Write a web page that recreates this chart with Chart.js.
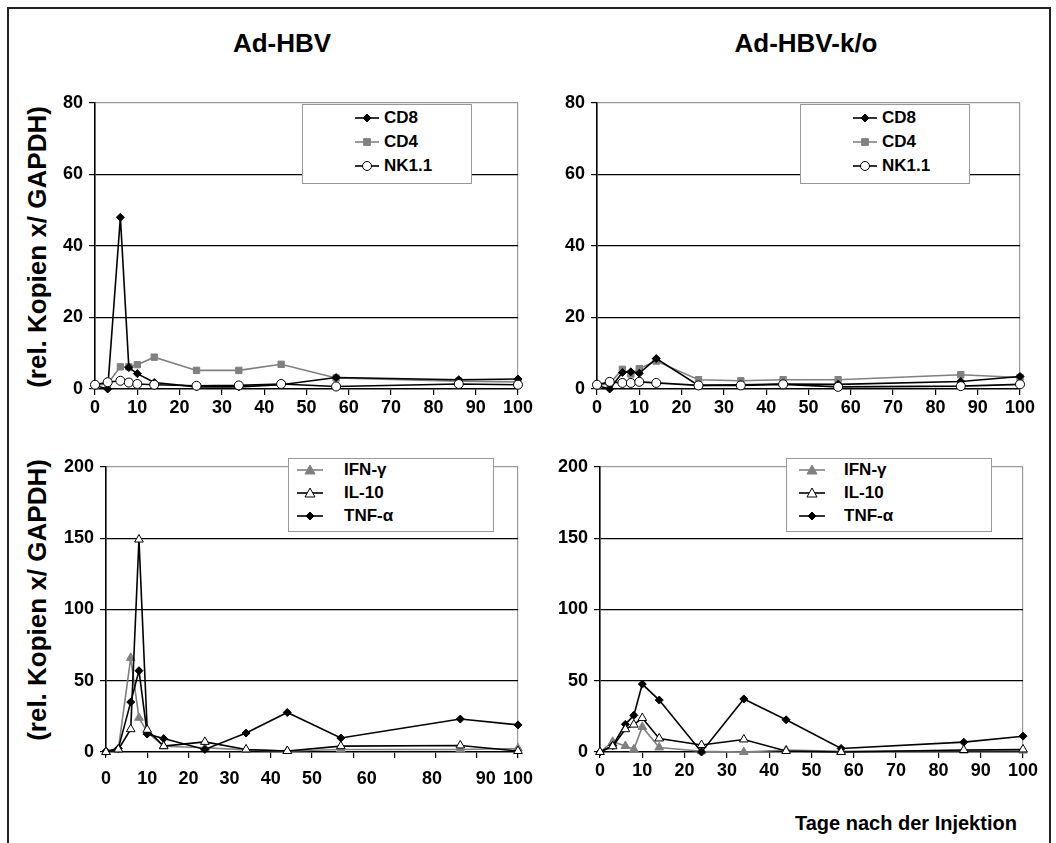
<!DOCTYPE html>
<html>
<head>
<meta charset="utf-8">
<script src="https://cdn.jsdelivr.net/npm/chart.js@4.4.0/dist/chart.umd.min.js"></script>
<style>
  body { margin: 0; background: #fff; width: 1056px; height: 843px; overflow: hidden; position: relative;
         font-family: "Liberation Sans", Arial, sans-serif; }
  .frame { position: absolute; left: 7px; top: 7px; width: 1040px; height: 860px; border: 2px solid #222; border-bottom: none; }
  .panel { position: absolute; }
  .title { position: absolute; font-weight: bold; font-size: 26px; transform: translateX(-50%); white-space: nowrap; }
  .ytitle { position: absolute; font-weight: bold; font-size: 26px; white-space: nowrap;
            transform: translate(-50%, -50%) rotate(-90deg); }
  .xtitle { position: absolute; font-weight: bold; font-size: 20px; white-space: nowrap; }
  .legend { position: absolute; border: 1px solid #999; background: #fff; }
  .legend .row { position: absolute; left: 0; height: 20px; font-weight: bold; font-size: 17px; line-height: 20px; white-space: nowrap; }
  .legend canvas { position: absolute; top: 4px; }
  .legend span { position: absolute; top: 0; }
</style>
</head>
<body>
<div class="frame"></div>
<div class="title" style="left:282px; top:28px;">Ad-HBV</div>
<div class="title" style="left:806px; top:28px;">Ad-HBV-k/o</div>
<div class="ytitle" style="left:37px; top:247px;">(rel. Kopien x/ GAPDH)</div>
<div class="ytitle" style="left:37px; top:600px;">(rel. Kopien x/ GAPDH)</div>
<div class="xtitle" style="left:795px; top:812px;">Tage nach der Injektion</div>

<canvas id="c1" class="panel" style="left:50px; top:86px;" width="488" height="335"></canvas>
<canvas id="c2" class="panel" style="left:552px; top:86px;" width="488" height="335"></canvas>
<canvas id="c3" class="panel" style="left:61px; top:450px;" width="477" height="334"></canvas>
<canvas id="c4" class="panel" style="left:555px; top:450px;" width="488" height="334"></canvas>

<script>
// days after injection
const days = [0, 3, 6, 8, 10, 14, 24, 34, 44, 57, 86, 100];

// Ad-HBV, cell markers
const hbvCD8 = [1, 0, 48, 6, 4.3, 1.8, 0.6, 0.6, 1.2, 3.2, 2.6, 2.8];
const hbvCD4 = [1, 1.5, 6.2, 6.2, 6.8, 8.9, 5.2, 5.2, 6.9, 3.1, 2.2, 2.0];
const hbvNK = [1.2, 1.9, 2.3, 1.8, 1.4, 1.2, 0.9, 1.0, 1.4, 0.7, 1.4, 1.2];

// Ad-HBV-k/o, cell markers
const koCD8 = [1, 0, 4.6, 4.8, 4.4, 8.5, 1.0, 1.2, 1.4, 1.3, 2.1, 3.5];
const koCD4 = [1, 1.5, 5.5, 4.2, 5.7, 7.8, 2.6, 2.3, 2.6, 2.6, 4.0, 3.2];
const koNK = [1.2, 2.0, 1.7, 1.7, 2.0, 1.7, 1.0, 1.0, 1.3, 0.6, 0.8, 1.3];

// Ad-HBV, cytokines
const hbvIFN = [0, 2, 66, 24, 14, 4, 3, 1.5, 0.7, 1.8, 1.8, 2.5];
const hbvIL10 = [0, 1.8, 16, 149, 15.6, 4.1, 7.1, 1.8, 0.7, 4.1, 4.6, 0.7];
const hbvTNF = [0.5, 2.5, 35, 57, 12.6, 9.4, 1.8, 13.3, 27.7, 9.8, 23.1, 19];

// Ad-HBV-k/o, cytokines
const koIFN = [0, 7.2, 4.2, 1.9, 17.6, 3.2, 0.5, 0, 1.4, 0.5, 1, 1];
const koIL10 = [0, 4, 16, 19.2, 23.8, 9.5, 4.9, 8.8, 0.7, 0, 1.4, 1.8];
const koTNF = [0, 4.4, 19.4, 25.7, 47.6, 36.4, 0, 37.2, 22.6, 2.5, 6.9, 11.1];

// x tick labels; the Ad-HBV cytokine panel has its labels placed off the tick marks
const xTickText = ['0', '10', '20', '30', '40', '50', '60', '70', '80', '90', '100'];
const hbvCytoTickText = ['0', '10', '20', '30', '40', '50', '60', '80', '90', '100'];
const hbvCytoTickPos = [0, 10, 20, 30, 40, 50, 63.3, 79.1, 92.2, 100];

const cellLabels = ['CD8', 'CD4', 'NK1.1'];
const cytoLabels = ['IFN-γ', 'IL-10', 'TNF-α'];

const GRAY = '#808080';
const styles = {
  'CD8':   { color: '#000', fill: '#000', point: 'rectRot', r: 4 },
  'CD4':   { color: GRAY, fill: GRAY, point: 'rect', r: 4.5 },
  'NK1.1': { color: '#000', fill: '#fff', point: 'circle', r: 4.5 },
  'IFN-γ': { color: GRAY, fill: GRAY, point: 'triangle', r: 5 },
  'IL-10': { color: '#000', fill: '#fff', point: 'triangle', r: 5 },
  'TNF-α': { color: '#000', fill: '#000', point: 'rectRot', r: 4 }
};

const tickFont = { family: 'Liberation Sans', weight: 'bold', size: 18 };

function dataset(label, values, order) {
  const s = styles[label];
  return {
    label,
    data: days.map((d, i) => ({ x: d, y: values[i] })),
    borderColor: s.color,
    backgroundColor: s.fill,
    pointBackgroundColor: s.fill,
    pointBorderColor: s.color,
    pointStyle: s.point,
    pointRadius: s.r,
    pointBorderWidth: 1,
    borderWidth: 1.6,
    tension: 0,
    clip: false,
    order
  };
}

function makeChart(id, datasets, yMax, yStep, labelPos, labelText) {
  const ctx = document.getElementById(id).getContext('2d');
  const offTick = !!labelPos;
  const scales = {
    x: {
      type: 'linear',
      min: 0, max: 100,
      afterFit: (s) => { s.height = offTick ? 8 : 32; },
      ticks: {
        display: !offTick,
        stepSize: 10,
        color: '#000',
        padding: 2,
        maxRotation: 0,
        font: tickFont,
        callback: (v) => xTickText[Math.round(v / 10)]
      },
      grid: {
        drawOnChartArea: true,
        color: (c) => c.tick && c.tick.value === 100 ? '#999' : 'rgba(0,0,0,0)',
        tickColor: '#000',
        tickLength: 6,
        lineWidth: 1.2
      },
      border: { color: '#000', width: 1.6 }
    },
    y: {
      min: 0, max: yMax,
      afterFit: (s) => { s.width = 45; },
      ticks: { stepSize: yStep, color: '#000', padding: 6, font: tickFont },
      grid: {
        color: (c) => {
          const v = c.tick ? c.tick.value : 0;
          if (v === 0) return 'rgba(0,0,0,0)';
          if (v === yMax) return '#999';
          return '#000';
        },
        tickColor: '#000',
        tickLength: 6,
        lineWidth: 1.2
      },
      border: { color: '#000', width: 1.6 }
    }
  };
  if (offTick) {
    scales.x2 = {
      type: 'linear',
      position: 'bottom',
      min: 0, max: 100,
      afterFit: (s) => { s.height = 24; },
      afterBuildTicks: (s) => { s.ticks = labelPos.map(v => ({ value: v })); },
      ticks: {
        color: '#000',
        padding: 0,
        maxRotation: 0,
        autoSkip: false,
        font: tickFont,
        callback: (v, i) => labelText[i]
      },
      grid: { display: false },
      border: { display: false }
    };
  }
  return new Chart(ctx, {
    type: 'line',
    data: { datasets },
    options: {
      responsive: false,
      animation: false,
      events: [],
      layout: { padding: { top: 10, right: 20, left: 0, bottom: 0 } },
      plugins: { legend: { display: false }, tooltip: { enabled: false } },
      scales
    }
  });
}

makeChart('c1', [
  dataset('CD8', hbvCD8, 2),
  dataset('CD4', hbvCD4, 3),
  dataset('NK1.1', hbvNK, 1)
], 80, 20);

makeChart('c2', [
  dataset('CD8', koCD8, 2),
  dataset('CD4', koCD4, 3),
  dataset('NK1.1', koNK, 1)
], 80, 20);

makeChart('c3', [
  dataset('IFN-γ', hbvIFN, 3),
  dataset('IL-10', hbvIL10, 1),
  dataset('TNF-α', hbvTNF, 2)
], 200, 50, hbvCytoTickPos, hbvCytoTickText);

makeChart('c4', [
  dataset('IFN-γ', koIFN, 3),
  dataset('IL-10', koIL10, 1),
  dataset('TNF-α', koTNF, 2)
], 200, 50);

// legend boxes
function drawMarker(c, label) {
  const s = styles[label];
  const g = c.getContext('2d');
  const w = c.width, h = c.height, cx = w / 2, cy = h / 2, r = s.r;
  g.strokeStyle = s.color;
  g.lineWidth = 1.6;
  g.beginPath(); g.moveTo(0, cy); g.lineTo(w, cy); g.stroke();
  g.fillStyle = s.fill;
  g.lineWidth = 1;
  g.beginPath();
  if (s.point === 'circle') {
    g.arc(cx, cy, r, 0, Math.PI * 2);
  } else if (s.point === 'rect') {
    g.rect(cx - r * 0.75, cy - r * 0.75, r * 1.5, r * 1.5);
  } else if (s.point === 'rectRot') {
    g.moveTo(cx, cy - r); g.lineTo(cx + r, cy); g.lineTo(cx, cy + r); g.lineTo(cx - r, cy); g.closePath();
  } else {
    g.moveTo(cx, cy - r); g.lineTo(cx + r, cy + r * 0.8); g.lineTo(cx - r, cy + r * 0.8); g.closePath();
  }
  g.fill(); g.stroke();
}

function makeLegend(left, top, width, height, labels, lineX, lineW, textX, rowY) {
  const box = document.createElement('div');
  box.className = 'legend';
  Object.assign(box.style, { left: left + 'px', top: top + 'px', width: width + 'px', height: height + 'px' });
  labels.forEach((lab, i) => {
    const row = document.createElement('div');
    row.className = 'row';
    row.style.top = (rowY[i] - 10) + 'px';
    row.style.width = width + 'px';
    const c = document.createElement('canvas');
    c.width = lineW; c.height = 12;
    c.style.left = lineX + 'px';
    drawMarker(c, lab);
    const t = document.createElement('span');
    t.textContent = lab;
    t.style.left = textX + 'px';
    row.appendChild(c); row.appendChild(t);
    box.appendChild(row);
  });
  document.body.appendChild(box);
}

makeLegend(302, 104, 168, 78, cellLabels, 52, 24, 81, [13, 37, 61]);
makeLegend(800, 104, 168, 78, cellLabels, 52, 24, 81, [13, 37, 61]);
makeLegend(288, 458, 204, 72, cytoLabels, 8, 26, 55, [11, 34, 57]);
makeLegend(786, 458, 204, 72, cytoLabels, 12, 26, 57, [11, 34, 57]);
</script>
</body>
</html>
